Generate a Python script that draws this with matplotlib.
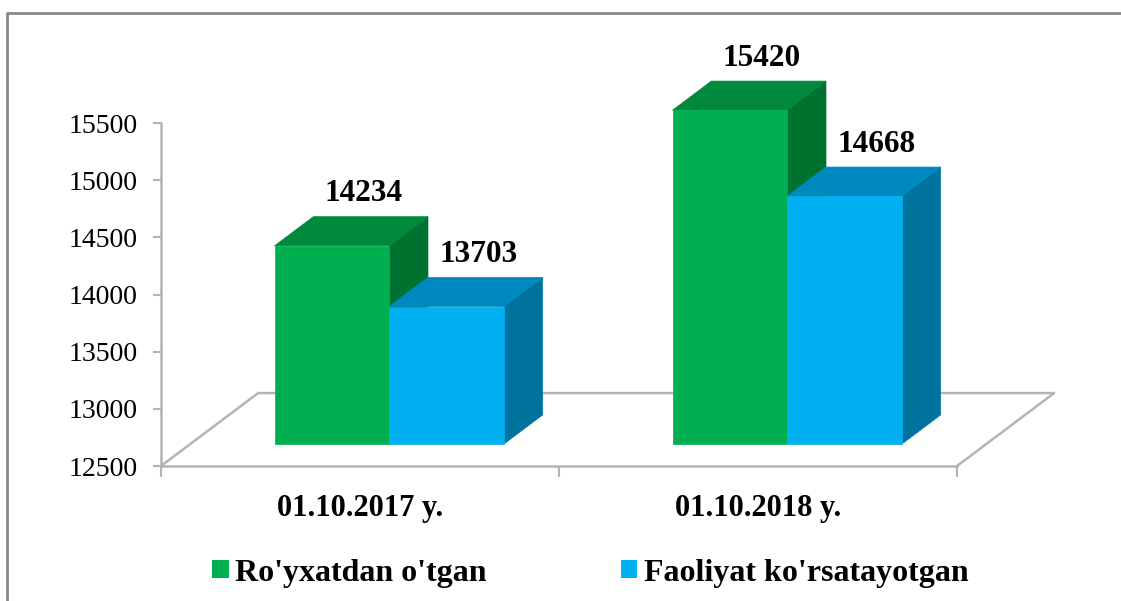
import matplotlib.pyplot as plt
from matplotlib.patches import Polygon, Patch
from matplotlib.lines import Line2D
import numpy as np

plt.rcParams.update({
    'font.family': 'Liberation Serif',
    'font.size': 20,
})

# data
categories = ['01.10.2017 y.', '01.10.2018 y.']
series_names = ["Ro'yxatdan o'tgan", "Faoliyat ko'rsatayotgan"]
registered = [14234, 15420]
active = [13703, 14668]
y_ticks = [12500, 13000, 13500, 14000, 14500, 15000, 15500]

front_colors = ['#00B050', '#00B0F0']
top_colors = ['#00883D', '#0089C0']
side_colors = ['#00722F', '#00729E']

base = 12500
DX, DV = 0.244, 638     # full floor depth in data units
d0, d1 = 0.30, 0.70     # bar depth range
w = 0.288               # bar width

fig = plt.figure(figsize=(11.21, 6.01), dpi=100)
ax = fig.add_axes([161 / 1121, 135 / 601, 796 / 1121, 343 / 601])
ax.set_xlim(0, 2)
ax.set_ylim(12500, 15500)

gray = '#B4B4B4'
# floor outline
ax.plot([0, DX, 2 + DX, 2], [base, base + DV, base + DV, base],
        color=gray, lw=1.8, clip_on=False, zorder=1)

centers = np.arange(len(categories)) + 0.5
for s, vals in enumerate([registered, active]):
    vals = np.array(vals)
    x0 = centers - w + s * w
    # front faces
    ax.bar(x0 + d0 * DX, vals - base, bottom=base + d0 * DV, width=w,
           align='edge', color=front_colors[s], edgecolor=front_colors[s],
           lw=0.5, clip_on=False, zorder=3 + s * 3)
    for xl, v in zip(x0, vals):
        xa, xb = xl + d0 * DX, xl + w + d0 * DX
        xc, xd = xl + d1 * DX, xl + w + d1 * DX
        yt0, yt1 = v + d0 * DV, v + d1 * DV
        yb0, yb1 = base + d0 * DV, base + d1 * DV
        top = Polygon([(xa, yt0), (xb, yt0), (xd, yt1), (xc, yt1)],
                      closed=True, fc=top_colors[s], ec=top_colors[s],
                      lw=0.5, clip_on=False, zorder=2 + s * 3)
        side = Polygon([(xb, yb0), (xb, yt0), (xd, yt1), (xd, yb1)],
                       closed=True, fc=side_colors[s], ec=side_colors[s],
                       lw=0.5, clip_on=False, zorder=1.5 + s * 3)
        ax.add_patch(top)
        ax.add_patch(side)
        ax.annotate(str(v), xy=(xl + d0 * DX + w / 2 + 0.08, yt1),
                    xytext=(0, 11), textcoords='offset points',
                    ha='center', va='baseline', fontsize=22.5,
                    fontweight='bold', annotation_clip=False, zorder=10)

# axes styling
for side_name in ['top', 'right']:
    ax.spines[side_name].set_visible(False)
for side_name in ['left', 'bottom']:
    ax.spines[side_name].set_color(gray)
    ax.spines[side_name].set_linewidth(1.8)
    ax.spines[side_name].set_zorder(0.5)

ax.set_yticks(y_ticks)
ax.tick_params(axis='y', direction='out', length=6, width=1.5, color=gray,
               pad=11, labelsize=20)
ax.set_xticks(centers)
ax.set_xticklabels(categories, fontsize=22, fontweight='bold')
ax.set_xticks([0, 1, 2], minor=True)
ax.tick_params(axis='x', which='major', length=0, pad=20)
ax.tick_params(axis='x', which='minor', direction='out', length=8,
               width=1.5, color=gray)

handles = [Patch(facecolor=c, edgecolor='none') for c in front_colors]
fig.legend(handles, series_names, loc='center left',
           bbox_to_anchor=(212 / 1121, 1 - 573 / 601), ncol=2, frameon=False,
           handlelength=0.52, handleheight=0.52, handletextpad=0.2,
           columnspacing=4.2, borderaxespad=0, borderpad=0,
           prop={'family': 'Liberation Serif', 'weight': 'bold', 'size': 23})

# chart border
fig.add_artist(Line2D([7 / 1121, 7 / 1121, 1.01], [-0.01, 1 - 13 / 601, 1 - 13 / 601],
                      transform=fig.transFigure, color='#898989', lw=2))

fig.savefig('out.png', dpi=100)
